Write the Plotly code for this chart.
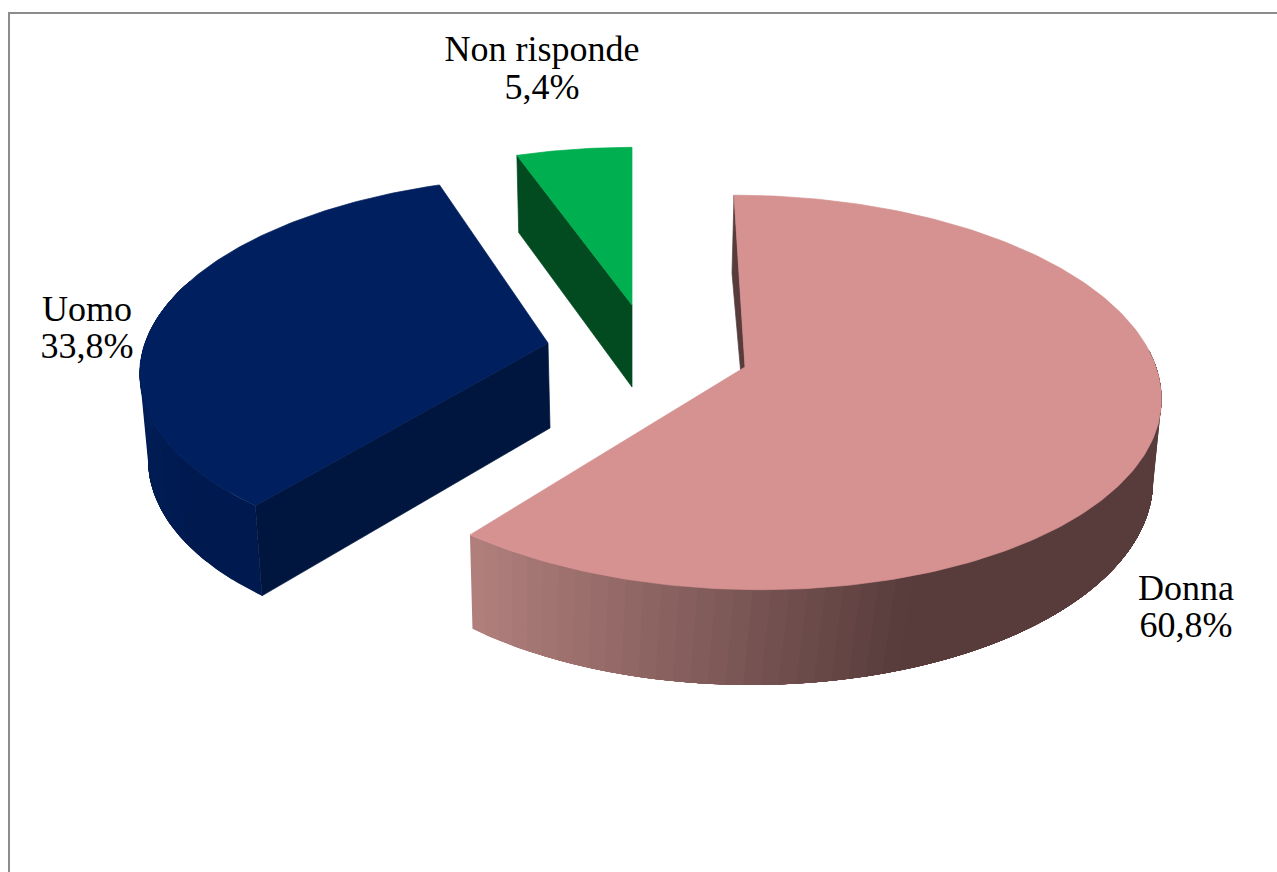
import math
import plotly.graph_objects as go

# ---- data ----
categories = ["Donna", "Uomo", "Non risponde"]
values = [60.8, 33.8, 5.4]

# ---- colours ----
top_colors = ["#D69191", "#001F5E", "#00AF50"]
face_colors = ["#583C3C", "#00163F", "#024A20"]
donna_side_from = (176, 127, 124)
donna_side_to = (88, 60, 60)
uomo_side_from = (0, 32, 90)
uomo_side_to = (0, 25, 78)
border_color = "#8C8C8C"

# ---- projection of each exploded slice (pixel canvas) ----
top_geom = [
    dict(cx=745, cy=367, a=411, b=194, k=0.129, su=0.064, sd=0.07),
    dict(cx=548, cy=343, a=403, b=188, k=0.129, su=-0.07, sd=-0.07),
    dict(cx=632, cy=305, a=388, b=178, k=0.129, su=0.0, sd=0.0),
]
bot_geom = [
    dict(cx=748, cy=455, a=402, b=203, k=0.117, su=0.088, sd=0.012),
    dict(cx=550, cy=428, a=397, b=196, k=0.117, su=-0.083, sd=-0.083),
    dict(cx=632, cy=387, a=378, b=182, k=0.117, su=0.0, sd=0.0),
]
label_x = [1186, 87, 542]
name_y = [591, 312, 52]
value_y = [628, 349, 90]


def pt(g, deg):
    t = math.radians(deg)
    d = 1 + g["k"] * math.cos(t)
    x = g["a"] * math.sin(t) / d
    y = -g["b"] * math.cos(t) / d
    s = g["su"] if y < 0 else g["sd"]
    return g["cx"] + x + s * y, g["cy"] + y


def arc(g, d0, d1, n=120):
    pts = [pt(g, d0 + (d1 - d0) * i / n) for i in range(n + 1)]
    return [p[0] for p in pts], [p[1] for p in pts]


def poly(fig, xs, ys, color, lw=0.7):
    fig.add_trace(go.Scatter(
        x=xs + xs[:1], y=ys + ys[:1], mode="lines", fill="toself",
        fillcolor=color, line=dict(color=color, width=lw),
        hoverinfo="skip", showlegend=False))


def rgb(c):
    return "rgb(%d,%d,%d)" % tuple(round(v) for v in c)


def mix(c0, c1, f):
    f = max(0.0, min(1.0, f))
    return tuple(a + (b - a) * f for a, b in zip(c0, c1))


def wall(fig, t, b, d_from, d_to, colour_at, n):
    """Outer wall painted as nested polygons, so bands leave no seams."""
    for j in range(n):
        d0 = d_from + (d_to - d_from) * j / n
        xt, yt = arc(t, d0, d_to, 90)
        xb, yb = arc(b, d_to, d0, 90)
        poly(fig, xt + xb, yt + yb, colour_at(j, d0), lw=0)


# slice angles, clockwise from the top, taken from the values
total = sum(values)
edges = [0.0]
for v in values:
    edges.append(edges[-1] + 360.0 * v / total)

fig = go.Figure()

# ---- Donna ----
i = 0
t, b = top_geom[i], bot_geom[i]
p0, p1 = pt(t, edges[i]), pt(b, edges[i])
poly(fig, [t["cx"], p0[0], p1[0], b["cx"]], [t["cy"], p0[1], p1[1], b["cy"]], face_colors[i])
x_left = pt(t, edges[i + 1])[0]
wall(fig, t, b, edges[i + 1], 85.0,
     lambda j, d: rgb(mix(donna_side_from, donna_side_to, (pt(t, d)[0] - x_left) / (900 - x_left))),
     60)
xs, ys = arc(t, edges[i], edges[i + 1], 240)
poly(fig, [t["cx"]] + xs, [t["cy"]] + ys, top_colors[i])

# ---- Uomo ----
i = 1
t, b = top_geom[i], bot_geom[i]
wall(fig, t, b, edges[i], 290.0,
     lambda j, d: rgb(mix(uomo_side_to, uomo_side_from, j / 11)), 12)
p0, p1 = pt(t, edges[i]), pt(b, edges[i])
poly(fig, [t["cx"], p0[0], p1[0], b["cx"]], [t["cy"], p0[1], p1[1], b["cy"]], face_colors[i])
xs, ys = arc(t, edges[i], edges[i + 1], 160)
poly(fig, [t["cx"]] + xs, [t["cy"]] + ys, top_colors[i])

# ---- Non risponde ----
i = 2
t, b = top_geom[i], bot_geom[i]
p0, p1 = pt(t, edges[i]), pt(b, edges[i])
poly(fig, [t["cx"], p0[0], p1[0], b["cx"]], [t["cy"], p0[1], p1[1], b["cy"]], face_colors[i])
xs, ys = arc(t, edges[i], edges[i + 1], 40)
poly(fig, [t["cx"]] + xs, [t["cy"]] + ys, top_colors[i])

# ---- labels ----
fig.add_trace(go.Scatter(
    x=label_x + label_x, y=name_y + value_y,
    mode="text",
    text=categories + [f"{v:.1f}%".replace(".", ",") for v in values],
    textposition="middle center",
    textfont=dict(family="Liberation Serif", size=36, color="#000000"),
    hoverinfo="skip", showlegend=False))

fig.update_layout(
    width=1277, height=872,
    margin=dict(l=0, r=0, t=0, b=0),
    paper_bgcolor="#FFFFFF", plot_bgcolor="#FFFFFF",
    xaxis=dict(range=[0, 1277], visible=False, fixedrange=True),
    yaxis=dict(range=[872, 0], visible=False, fixedrange=True),
    shapes=[
        dict(type="line", xref="x", yref="y", x0=9, y0=13, x1=1277, y1=13,
             line=dict(color=border_color, width=2)),
        dict(type="line", xref="x", yref="y", x0=9, y0=12, x1=9, y1=872,
             line=dict(color=border_color, width=2)),
    ],
)
fig.write_html("out.html", config={"displayModeBar": False},
               post_script="document.body.style.margin='0';document.documentElement.style.overflow='hidden';")
